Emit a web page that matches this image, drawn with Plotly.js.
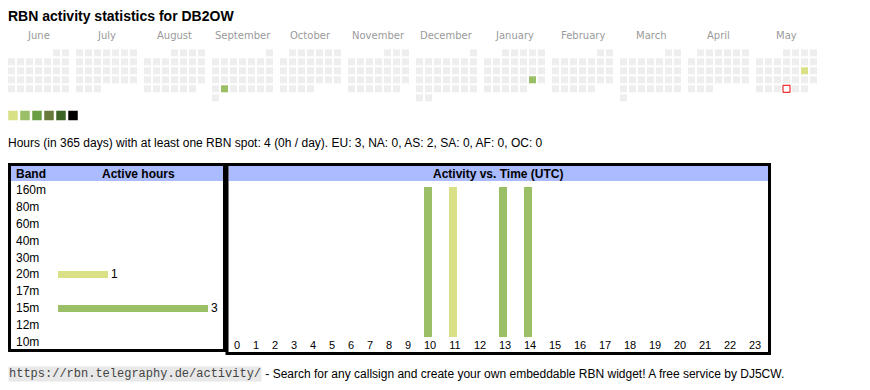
<!DOCTYPE html>
<html><head><meta charset="utf-8">
<script src="https://cdn.plot.ly/plotly-3.0.1.min.js"></script>
<style>html,body{margin:0;padding:0;background:#fff;}#chart{width:870px;height:390px;}</style>
</head><body><div id="chart"></div>
<script>
// ---------------- DATA ----------------
const callsign = "DB2OW";
const monthNames = ["June","July","August","September","October","November","December","January","February","March","April","May"];
const firstYear = 2024, firstMonth = 5; // June 2024 (0-based month)
const todayDate = "2025-05-29";
const activeDays = ["2024-09-24","2025-01-25","2025-05-17"];
const activeDayBand = ["15m","15m","20m"];
const levelColors = ["#d9e085","#9bbf66","#6a9e45","#677a3b","#3d6527","#000000"];
const bands = ["160m","80m","60m","40m","30m","20m","17m","15m","12m","10m"];
const bandHours = [0,0,0,0,0,1,0,3,0,0];
const hourLabels = ["0","1","2","3","4","5","6","7","8","9","10","11","12","13","14","15","16","17","18","19","20","21","22","23"];
const hourActivity = [0,0,0,0,0,0,0,0,0,0,1,1,0,1,1,0,0,0,0,0,0,0,0,0];
const hourBand = ["","","","","","","","","","","15m","20m","","15m","15m","","","","","","","","",""];
const daysSpan = 365;
const totalHours = 4;
const continents = ["EU","NA","AS","SA","AF","OC"];
const continentHours = [3,0,2,0,0,0];

// ---------------- STYLE ----------------
const W = 870, H = 390;
const SANS = "Liberation Sans, Arial, sans-serif";
const bandColor = {"160m":"#3d6527","80m":"#677a3b","60m":"#6a9e45","40m":"#9bbf66","30m":"#d9e085","20m":"#d9e085","17m":"#6a9e45","15m":"#9bbf66","12m":"#677a3b","10m":"#3d6527"};
const emptyCell = "#eeeeee";
const cellPx = 9, monthGapCols = 5/9;
const calOrigin = {x: 11.5, y: 52.8};
const colW1 = 19, colW2 = 25;
const px = v => v / W;
const py = v => 1 - v / H;

// ---------------- CALENDAR ----------------
const gx = [], gy = [], ax = [], ay = [], ac = [], tx = [], ty = [];
const monthCenters = [];
const pitch = 7 + monthGapCols;
for (let m = 0; m < 12; m++) {
  const year = firstYear + Math.floor((firstMonth + m) / 12);
  const mon = (firstMonth + m) % 12;
  const nDays = new Date(Date.UTC(year, mon + 1, 0)).getUTCDate();
  const dow0 = (new Date(Date.UTC(year, mon, 1)).getUTCDay() + 6) % 7;
  monthCenters.push(m * pitch + 3);
  for (let d = 1; d <= nDays; d++) {
    const idx = dow0 + d - 1;
    const x = m * pitch + (idx % 7), y = Math.floor(idx / 7);
    const iso = `${year}-${String(mon + 1).padStart(2, "0")}-${String(d).padStart(2, "0")}`;
    const ai = activeDays.indexOf(iso);
    if (iso === todayDate) { tx.push(x); ty.push(y); }
    else if (ai >= 0) { ax.push(x); ay.push(y); ac.push(bandColor[activeDayBand[ai]]); }
    else { gx.push(x); gy.push(y); }
  }
}

const traces = [];
traces.push({type:"scatter", mode:"markers", x:gx, y:gy, xaxis:"x", yaxis:"y", hoverinfo:"skip",
  marker:{symbol:"square", size:7, color:emptyCell, line:{width:0}}});
traces.push({type:"scatter", mode:"markers", x:ax, y:ay, xaxis:"x", yaxis:"y", hoverinfo:"skip",
  marker:{symbol:"square", size:7, color:ac, line:{width:0}}});
traces.push({type:"scatter", mode:"markers", x:tx, y:ty, xaxis:"x", yaxis:"y", hoverinfo:"skip",
  marker:{symbol:"square", size:7, color:"#ffffff", line:{width:1, color:"#ee0000"}}});
// level legend swatches
traces.push({type:"scatter", mode:"markers", x:levelColors.map((c,i)=>(13 - calOrigin.x + i*12)/cellPx),
  y:levelColors.map(()=> (115.5 - calOrigin.y)/cellPx), xaxis:"x", yaxis:"y", hoverinfo:"skip",
  marker:{symbol:"square", size:9.5, color:levelColors, line:{width:0}}});

// ---------------- BAND TABLE ----------------
traces.push({type:"bar", orientation:"h", x:bandHours, y:bands, xaxis:"x2", yaxis:"y2",
  width:0.41, marker:{color:bands.map(b=>bandColor[b]), line:{width:0}},
  text:bandHours.map(v=>v>0?String(v):""), textposition:"outside", cliponaxis:false, constraintext:"none",
  textfont:{family:SANS, size:12, color:"#000"}, hoverinfo:"skip"});

// ---------------- HOUR TABLE ----------------
const colWidths = hourLabels.map(l => l.length === 1 ? colW1 : colW2);
const centers = []; let acc = 0;
colWidths.forEach(w => { centers.push(acc + w/2); acc += w; });
const tableW = acc;
traces.push({type:"bar", x:centers, y:hourActivity, xaxis:"x3", yaxis:"y3", width:8, offset:-6,
  marker:{color:hourBand.map(b=>b?bandColor[b]:"#ffffff"), line:{width:0}}, hoverinfo:"skip"});

const statsText = `Hours (in ${daysSpan} days) with at least one RBN spot: ${totalHours} (${Math.round(totalHours/daysSpan)}h / day). ` +
  continents.map((c,i)=>`${c}: ${continentHours[i]}`).join(", ");

const annotations = [];
monthNames.forEach((n,i)=>annotations.push({x:monthCenters[i], y:(35 - calOrigin.y)/cellPx, xref:"x", yref:"y",
  text:n, showarrow:false, xanchor:"center", yanchor:"middle", font:{family:"DejaVu Sans, sans-serif", size:10, color:"#9a9a9a"}}));
annotations.push({x:px(6), y:py(142.5), xref:"paper", yref:"paper", text:statsText, showarrow:false,
  xanchor:"left", yanchor:"middle", font:{family:SANS, size:12, color:"#000"}});
annotations.push({x:px(14), y:py(173.5), xref:"paper", yref:"paper", text:"<b>Band</b>", showarrow:false,
  xanchor:"left", yanchor:"middle", font:{family:SANS, size:12, color:"#000"}});
annotations.push({x:px(138), y:py(173.5), xref:"paper", yref:"paper", text:"<b>Active hours</b>", showarrow:false,
  xanchor:"center", yanchor:"middle", font:{family:SANS, size:12, color:"#000"}});
annotations.push({x:px(497.5), y:py(173.5), xref:"paper", yref:"paper", text:"<b>Activity vs. Time (UTC)</b>", showarrow:false,
  xanchor:"center", yanchor:"middle", font:{family:SANS, size:12, color:"#000"}});
bands.forEach(b=>annotations.push({x:px(14), y:b, xref:"paper", yref:"y2", text:b, showarrow:false,
  xanchor:"left", yanchor:"middle", font:{family:SANS, size:12, color:"#000"}}));
annotations.push({x:px(8), y:py(374), xref:"paper", yref:"paper", text:"https://rbn.telegraphy.de/activity/", showarrow:false,
  xanchor:"left", yanchor:"middle", bgcolor:"#e8e8e8", borderpad:0, font:{family:"Liberation Mono, monospace", size:12, color:"#444"}});
annotations.push({x:px(260), y:py(374), xref:"paper", yref:"paper",
  text:" - Search for any callsign and create your own embeddable RBN widget! A free service by DJ5CW.", showarrow:false,
  xanchor:"left", yanchor:"middle", font:{family:SANS, size:12, color:"#000"}});

const shapes = [
  {type:"rect", xref:"paper", yref:"paper", x0:px(11), x1:px(223), y0:py(166), y1:py(181), fillcolor:"#aabbff", line:{width:0}, layer:"below"},
  {type:"rect", xref:"paper", yref:"paper", x0:px(228.5), x1:px(768), y0:py(165.5), y1:py(181), fillcolor:"#aabbff", line:{width:0}, layer:"below"},
  {type:"rect", xref:"paper", yref:"paper", x0:px(9.5), x1:px(224.5), y0:py(164.5), y1:py(350.5), line:{width:3, color:"#000"}, fillcolor:"rgba(0,0,0,0)"},
  {type:"rect", xref:"paper", yref:"paper", x0:px(227), x1:px(769.5), y0:py(164.5), y1:py(353.5), line:{width:3, color:"#000"}, fillcolor:"rgba(0,0,0,0)"}
];

const hidden = {visible:false, fixedrange:true, showgrid:false, zeroline:false};
const layout = {
  width:W, height:H, margin:{l:0,r:0,t:0,b:0,pad:0}, paper_bgcolor:"#fff", plot_bgcolor:"rgba(0,0,0,0)",
  showlegend:false,
  title:{text:`<b>RBN activity statistics for ${callsign}</b>`, font:{family:SANS, size:14, color:"#000"},
    xref:"paper", yref:"paper", x:px(8), xanchor:"left", y:py(16), yanchor:"middle"},
  xaxis:Object.assign({}, hidden, {domain:[0,1], range:[-calOrigin.x/cellPx, (W-calOrigin.x)/cellPx]}),
  yaxis:Object.assign({}, hidden, {domain:[0,1], range:[(H-calOrigin.y)/cellPx, -calOrigin.y/cellPx]}),
  xaxis2:Object.assign({}, hidden, {domain:[px(58), px(208)], range:[0, Math.max(...bandHours)], anchor:"y2"}),
  yaxis2:Object.assign({}, hidden, {domain:[py(350.5), py(181.5)], type:"category", categoryarray:bands, categoryorder:"array", range:[bands.length-0.5, -0.5], anchor:"x2"}),
  xaxis3:{domain:[px(227.5), px(227.5+tableW)], range:[0, tableW], anchor:"y3", tickmode:"array", tickvals:centers, ticktext:hourLabels,
    showgrid:false, zeroline:false, showline:false, ticks:"", fixedrange:true, tickfont:{family:SANS, size:11, color:"#000"}},
  yaxis3:Object.assign({}, hidden, {domain:[py(337), py(187)], range:[0, Math.max(...hourActivity)], anchor:"x3"}),
  shapes:shapes, annotations:annotations, bargap:0
};
Plotly.newPlot("chart", traces, layout, {staticPlot:true, displayModeBar:false});
</script></body></html>
